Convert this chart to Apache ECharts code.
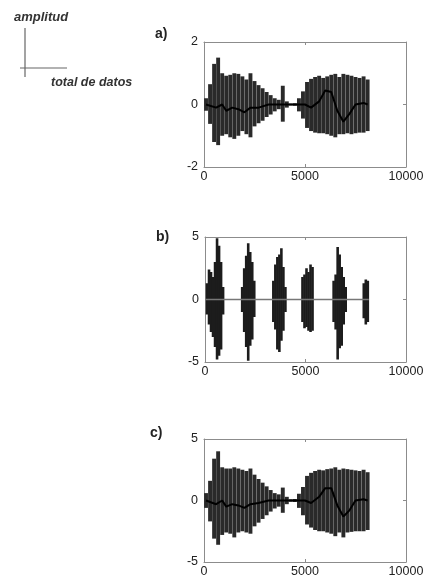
<!DOCTYPE html>
<html><head><meta charset="utf-8">
<script src="https://cdn.jsdelivr.net/npm/echarts@6/dist/echarts.min.js"></script>
<style>html,body{margin:0;padding:0;background:#fff}#c{width:430px;height:580px}</style>
</head><body><div id="c"></div>
<script>
// ---- data ----
const xTicks = [0, 5000, 10000];
const yTicksA = [-2, 0, 2];
const yTicksBC = [-5, 0, 5];
const panelLabels = ['a)', 'b)', 'c)'];

// panel a / c: time grid
const tAC = [100,300,500,700,900,1100,1300,1500,1700,1900,2100,2300,2500,2700,2900,3100,3300,3500,3700,3900,4100,4300,4500,4700,4900,5100,5300,5500,5700,5900,6100,6300,6500,6700,6900,7100,7300,7500,7700,7900,8100];
const hiA = [0.2,0.65,1.3,1.5,1.0,0.92,0.95,1.0,0.98,0.9,0.8,1.0,0.75,0.62,0.52,0.4,0.3,0.2,0.15,0.6,0.1,0.03,0.04,0.2,0.42,0.72,0.82,0.88,0.92,0.85,0.9,0.95,0.98,0.88,0.98,0.95,0.92,0.88,0.85,0.9,0.8];
const loA = [-0.2,-0.62,-1.2,-1.3,-1.0,-0.95,-1.05,-1.1,-1.0,-0.85,-0.95,-1.05,-0.7,-0.6,-0.52,-0.4,-0.32,-0.22,-0.15,-0.55,-0.1,-0.03,-0.04,-0.22,-0.45,-0.75,-0.85,-0.9,-0.92,-0.92,-0.95,-1.0,-1.05,-0.95,-0.95,-0.92,-0.95,-0.92,-0.9,-0.9,-0.85];
const hiC = [0.6,1.6,3.4,4.0,2.7,2.6,2.6,2.7,2.6,2.5,2.4,2.6,2.1,1.75,1.45,1.15,0.85,0.6,0.5,1.05,0.3,0.1,0.12,0.55,1.1,2.0,2.25,2.4,2.5,2.45,2.55,2.6,2.7,2.5,2.6,2.55,2.5,2.45,2.4,2.5,2.3];
const loC = [-0.6,-1.7,-3.1,-3.6,-2.8,-2.6,-2.7,-3.0,-2.6,-2.5,-2.6,-2.7,-2.1,-1.8,-1.5,-1.2,-0.9,-0.65,-0.5,-1.0,-0.3,-0.1,-0.12,-0.6,-1.2,-1.95,-2.2,-2.4,-2.5,-2.5,-2.6,-2.7,-2.9,-2.6,-3.0,-2.6,-2.55,-2.5,-2.5,-2.5,-2.4];

// slow centre trace of a / c
const ctT  = [100,600,900,1100,1400,1700,2000,2300,2700,3200,4000,5000,5300,5700,6000,6300,6600,6900,7200,7500,7900,8100];
const ctA  = [0,-0.1,0,-0.2,-0.1,-0.15,-0.25,-0.1,-0.1,0,0,0,-0.1,0.1,0.45,0.4,-0.2,-0.55,-0.3,0,0.05,0];
const ctC  = [0,-0.3,0,-0.5,-0.3,-0.4,-0.6,-0.3,-0.2,0,0,0,-0.2,0.3,1.0,1.0,-0.4,-1.3,-0.8,0,0.1,0];

// panel b: bursts
const tB  = [100,200,300,400,500,600,700,800,900, 1850,1950,2050,2150,2250,2350,2450, 3400,3500,3600,3700,3800,3900,4000, 4850,4950,5050,5150,5250,5350, 6400,6500,6600,6700,6800,6900,7000, 7900,8000,8100];
const hiB = [1.3,2.4,2.2,1.8,3.0,4.9,4.3,3.0,1.0, 1.0,2.5,3.5,4.5,3.8,3.0,1.5, 1.5,2.8,3.4,3.6,4.1,2.6,1.0, 1.8,2.0,2.5,2.2,2.8,2.6, 1.5,2.0,4.2,3.6,2.6,1.8,1.0, 1.3,1.6,1.5];
const loB = [-1.2,-2.0,-2.6,-3.0,-3.8,-4.8,-4.5,-4.0,-1.2, -1.0,-2.6,-3.8,-4.9,-3.7,-3.2,-1.4, -1.8,-2.4,-4.0,-4.2,-3.3,-2.5,-1.0, -1.8,-2.3,-2.2,-2.5,-2.6,-2.5, -1.8,-2.4,-4.8,-3.9,-3.7,-2.0,-1.0, -1.5,-2.0,-1.8];
const baseB_t = [0, 8150];
const baseB_v = [0, 0];

// ---- build ----
const FONT = 'Liberation Sans, Arial, sans-serif';
const zip3 = (a,b,c) => a.map((v,i)=>[v,b[i],c[i]]);
const zip2 = (a,b) => a.map((v,i)=>[v,b[i]]);

const grids = [
  {left:204, top:42, width:202, height:125},
  {left:205, top:237, width:201, height:125},
  {left:204, top:439, width:202, height:123}
];
const yRanges = [yTicksA, yTicksBC, yTicksBC];

const xAxes = [], yAxes = [];
const axisCol = '#8c8c8c';
const lblStyle = {show:true, fontSize:12.5, color:'#222', fontFamily:FONT, formatter:(v)=>String(v)};
grids.forEach((g, i) => {
  const common = {gridIndex:i, type:'value', min:xTicks[0], max:xTicks[2], interval:xTicks[1]-xTicks[0],
    axisLine:{show:true, onZero:false, lineStyle:{color:axisCol, width:1}},
    axisTick:{show:true, inside:true, length:3, lineStyle:{color:axisCol}},
    splitLine:{show:false}};
  xAxes.push(Object.assign({}, common, {position:'bottom',
    axisLabel:Object.assign({margin:3}, lblStyle)}));
  xAxes.push(Object.assign({}, common, {position:'top', axisLabel:{show:false}}));
  const yr = yRanges[i];
  const yc = {gridIndex:i, type:'value', min:yr[0], max:yr[2], interval:yr[1]-yr[0],
    axisLine:{show:true, onZero:false, lineStyle:{color:axisCol, width:1}},
    axisTick:{show:true, inside:true, length:3, lineStyle:{color:axisCol}},
    splitLine:{show:false}};
  yAxes.push(Object.assign({}, yc, {position:'left',
    axisLabel:Object.assign({margin:6}, lblStyle)}));
  yAxes.push(Object.assign({}, yc, {position:'right', axisLabel:{show:false}}));
});

function stripes(w, color){
  return function(params, api){
    const t = api.value(0), hi = api.value(1), lo = api.value(2);
    const p1 = api.coord([t, hi]);
    const p2 = api.coord([t, lo]);
    return {type:'rect', shape:{x:p1[0]-w/2, y:p1[1], width:w, height:p2[1]-p1[1]},
      style:{fill:color}};
  };
}

const series = [];
// panel a
series.push({type:'custom', xAxisIndex:0, yAxisIndex:0, renderItem:stripes(3.9,'#2a2a2a'),
  encode:{x:0, y:[1,2]}, data:zip3(tAC, hiA, loA), silent:true, clip:true});
series.push({type:'line', xAxisIndex:0, yAxisIndex:0, data:zip2(ctT, ctA), showSymbol:false,
  lineStyle:{color:'#000', width:2}, silent:true, z:3});
// panel b
series.push({type:'line', xAxisIndex:2, yAxisIndex:2, data:zip2(baseB_t, baseB_v), showSymbol:false,
  lineStyle:{color:'#777', width:1.5}, silent:true});
series.push({type:'custom', xAxisIndex:2, yAxisIndex:2, renderItem:stripes(2.6,'#1c1c1c'),
  encode:{x:0, y:[1,2]}, data:zip3(tB, hiB, loB), silent:true, clip:true, z:3});
// panel c
series.push({type:'custom', xAxisIndex:4, yAxisIndex:4, renderItem:stripes(3.9,'#2a2a2a'),
  encode:{x:0, y:[1,2]}, data:zip3(tAC, hiC, loC), silent:true, clip:true});
series.push({type:'line', xAxisIndex:4, yAxisIndex:4, data:zip2(ctT, ctC), showSymbol:false,
  lineStyle:{color:'#000', width:2}, silent:true, z:3});

const labelPos = [[155,27],[156,230],[150,426]];
const graphic = [
  {type:'text', left:14, top:11, style:{text:'amplitud', font:'italic bold 13px ' + FONT, fill:'#333'}},
  {type:'line', shape:{x1:25, y1:28, x2:25, y2:77}, style:{stroke:'#666', lineWidth:1.2}},
  {type:'line', shape:{x1:20, y1:68, x2:67, y2:68}, style:{stroke:'#666', lineWidth:1.2}},
  {type:'text', left:51, top:76, style:{text:'total de datos', font:'italic bold 12.5px ' + FONT, fill:'#333'}}
];
panelLabels.forEach((s,i)=>{
  graphic.push({type:'text', left:labelPos[i][0], top:labelPos[i][1],
    style:{text:s, font:'bold 14px ' + FONT, fill:'#222'}});
});

const chart = echarts.init(document.getElementById('c'), null, {renderer:'canvas'});
chart.setOption({
  animation:false,
  backgroundColor:'#fff',
  grid:grids,
  xAxis:xAxes,
  yAxis:yAxes,
  series:series,
  graphic:graphic
});
</script></body></html>
